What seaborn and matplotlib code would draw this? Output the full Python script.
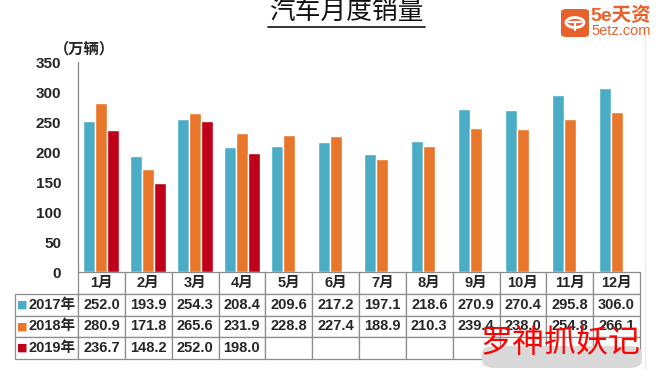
import numpy as np
import pandas as pd
import matplotlib
matplotlib.use("Agg")
import matplotlib.pyplot as plt
from matplotlib.patches import FancyBboxPatch, Circle
from matplotlib.lines import Line2D
import seaborn as sns

# monthly car sales (10k units)
months = ['1月', '2月', '3月', '4月', '5月', '6月', '7月', '8月', '9月', '10月', '11月', '12月']
years = ['2017年', '2018年', '2019年']
sales_2017 = [252.0, 193.9, 254.3, 208.4, 209.6, 217.2, 197.1, 218.6, 270.9, 270.4, 295.8, 306.0]
sales_2018 = [280.9, 171.8, 265.6, 231.9, 228.8, 227.4, 188.9, 210.3, 239.4, 238.0, 254.8, 266.1]
sales_2019 = [236.7, 148.2, 252.0, 198.0]
colors = ['#4BACC6', '#E8762B', '#C00018']

W, H = 666, 370

sns.set_theme(style="white")
plt.rcParams['font.family'] = ['Liberation Sans', 'Noto Sans CJK SC', 'DejaVu Sans']

rows = []
for yr, vals in zip(years, [sales_2017, sales_2018, sales_2019]):
    for m, v in zip(months, vals):
        rows.append({'month': m, 'year': yr, 'value': v})
df = pd.DataFrame(rows)

fig = plt.figure(figsize=(W / 100, H / 100), dpi=100)
ax = fig.add_axes([78 / W, 1 - 272 / H, 562 / W, 210 / H])

sns.barplot(data=df, x='month', y='value', hue='year', order=months, hue_order=years,
            palette=colors, width=0.77, gap=0, legend=False, ax=ax, saturation=1)

ax.set_xlim(-0.5, 11.5)
ax.set_ylim(0, 350)
ax.set_yticks(range(0, 351, 50))
ax.set_xticks([])
ax.set_xlabel('')
ax.set_ylabel('')
for lab in ax.get_yticklabels():
    lab.set_fontweight('bold')
    lab.set_fontsize(11)
ax.tick_params(axis='y', direction='in', length=4, color='#888888', pad=12)
sns.despine(ax=ax, top=True, right=True, bottom=True)
ax.spines['left'].set_color('#888888')
ax.spines['left'].set_linewidth(0.9)

# data table below the bars
def fmt(vals):
    return [f'{v:.1f}' for v in vals] + [''] * (12 - len(vals))

cell_text = [[yr] + fmt(v) for yr, v in zip(years, [sales_2017, sales_2018, sales_2019])]
lab_w = 63 / 562
tab_h = 87 / 210
tbl = ax.table(cellText=cell_text, colLabels=[''] + months,
               colWidths=[lab_w] + [1 / 12] * 12,
               cellLoc='center', bbox=[-lab_w, -tab_h, 1 + lab_w, tab_h])
tbl.auto_set_font_size(False)
for (r, c), cell in tbl.get_celld().items():
    cell.set_edgecolor('#8c8c8c')
    cell.set_linewidth(0.9)
    cell.get_text().set_fontsize(10.5)
    cell.get_text().set_fontweight('bold')
    if r == 0 and c == 0:
        cell.visible_edges = 'open'
    if c == 0 and r > 0:
        cell.get_text().set_ha('right')
        cell._loc = 'right'
        cell.PAD = 0.04

# colored squares in the row labels
row_h = tab_h / 4
for i, col in enumerate(colors):
    yc = -row_h * (i + 1.5)
    ax.text(-lab_w + 0.012, yc, '■', color=col, fontsize=8, ha='center', va='center',
            transform=ax.transAxes, family='DejaVu Sans')

# title with underline
fig.text(346 / W, 1 - 13 / H, '汽车月度销量', fontsize=18.5, ha='center', va='center', color='#111111')
fig.add_artist(Line2D([268 / W, 425 / W], [1 - 26.5 / H, 1 - 26.5 / H], color='#222222', lw=1.3))

# unit label
fig.text(84 / W, 1 - 49 / H, '（万辆）', fontsize=11, fontweight='bold', ha='center', va='center')

# watermark logo top right
orange = '#E8612C'
fig.add_artist(FancyBboxPatch((561 / W, 1 - 37 / H), 28 / W, 28 / H,
                              boxstyle='round,pad=0,rounding_size=0.008',
                              facecolor=orange, edgecolor='none', transform=fig.transFigure))
fig.add_artist(Circle((575 / W, 1 - 22.5 / H), 0.0135, transform=fig.transFigure,
                      facecolor='none', edgecolor='white', lw=2))
fig.add_artist(Line2D([569 / W, 581 / W], [1 - 22 / H, 1 - 22 / H], color='white', lw=1.6))
fig.add_artist(Line2D([575 / W, 575 / W], [1 - 22 / H, 1 - 30 / H], color='white', lw=1.6))
fig.text(590 / W, 1 - 16 / H, '5e天资', fontsize=14, fontweight='bold', color=orange,
         ha='left', va='center')
fig.text(591 / W, 1 - 31 / H, '5etz.com', fontsize=10.5, color=orange, ha='left', va='center')
fig.add_artist(Line2D([645 / W, 645 / W], [0, 1], color='#ececec', lw=1))

# red overlay text at bottom right
fig.add_artist(FancyBboxPatch((482 / W, 2 / H), 160 / W, 22 / H,
                              boxstyle='round,pad=0,rounding_size=0.02',
                              facecolor='#d9d9d9', edgecolor='none', transform=fig.transFigure))
fig.text(561 / W, 1 - 343 / H, '罗神抓妖记', fontsize=23, color='#FF0000', ha='center', va='center',
         family='Noto Sans CJK SC')

fig.savefig('out.png', dpi=100)
